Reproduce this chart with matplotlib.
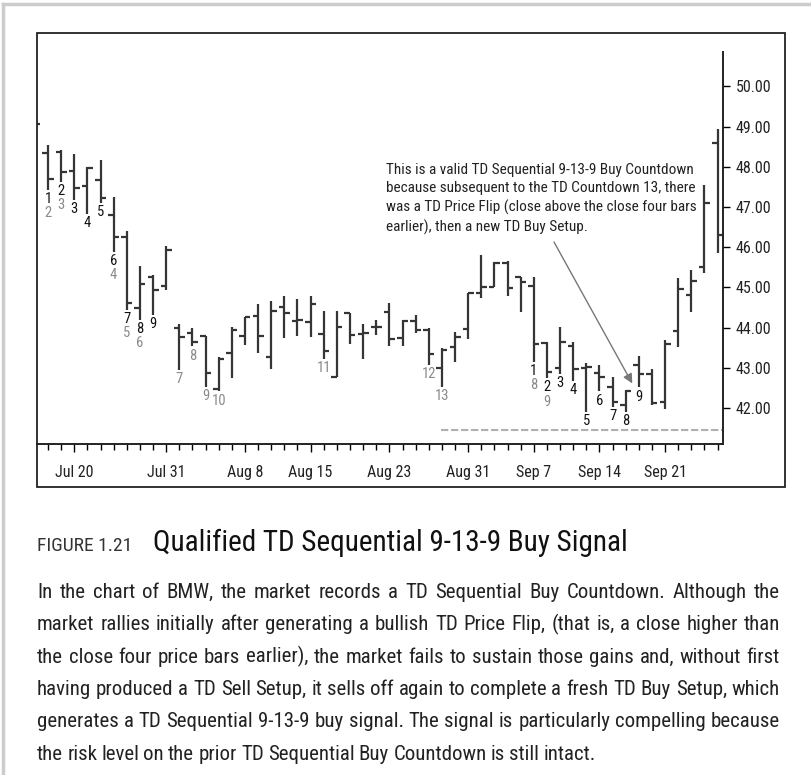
import matplotlib.pyplot as plt
from matplotlib.patches import Rectangle
from matplotlib.lines import Line2D
import numpy as np

plt.rcParams['font.family'] = ['Roboto Condensed', 'Liberation Sans Narrow', 'Roboto', 'DejaVu Sans']

# daily OHLC bars of BMW (bar index 0..52)
opens = [49.30, 48.35, 48.37, 47.90, 47.52, 47.67, 46.79, 46.25, 44.48, 45.27,
         45.04, 43.98, 43.87, 43.79, 42.47, 43.36, 43.79, 44.29, 43.28, 44.50,
         44.16, 44.13, 43.84, 42.76, 44.36, 43.84, 44.02, 44.40, 43.73, 44.17,
         43.94, 43.00, 43.51, 43.97, 44.87, 45.02, 45.61, 45.25, 45.03, 43.62,
         42.99, 43.55, 43.00, 42.88, 42.53, 42.07, 43.07, 42.85, 42.15, 43.92,
         44.81, 45.51, 48.60]
highs = [49.45, 48.54, 48.42, 48.32, 48.00, 48.17, 47.24, 46.40, 45.52, 45.31,
         46.03, 44.10, 44.00, 43.79, 43.28, 44.02, 44.27, 44.58, 44.67, 44.79,
         44.70, 44.79, 44.41, 44.42, 44.36, 44.10, 44.19, 44.60, 44.19, 44.31,
         44.00, 43.48, 43.90, 44.87, 45.81, 45.64, 45.66, 45.27, 45.25, 43.65,
         44.02, 43.65, 43.13, 43.07, 42.78, 42.45, 43.29, 42.96, 43.69, 45.23,
         45.43, 47.55, 48.95]
lows = [48.85, 47.42, 47.63, 47.17, 46.83, 47.10, 45.89, 44.44, 44.19, 44.31,
        44.94, 42.95, 43.53, 42.53, 42.41, 42.74, 43.57, 43.38, 42.97, 43.73,
        43.79, 43.77, 43.22, 42.76, 43.59, 43.21, 43.82, 43.54, 43.54, 43.87,
        43.07, 42.53, 43.15, 43.72, 44.73, 45.00, 44.79, 44.40, 43.15, 42.74,
        42.85, 42.68, 41.91, 42.41, 42.02, 41.91, 42.51, 42.07, 41.97, 43.51,
        44.40, 45.35, 45.85]
closes = [49.07, 47.69, 47.88, 47.46, 47.98, 47.23, 46.25, 44.62, 45.08, 44.94,
          45.93, 43.77, 43.63, 42.86, 43.22, 43.94, 44.26, 43.79, 44.41, 44.36,
          44.19, 44.58, 43.42, 44.02, 43.82, 43.86, 44.02, 43.71, 44.17, 43.94,
          43.34, 43.44, 43.76, 44.87, 45.02, 45.61, 44.98, 45.14, 43.59, 42.89,
          43.65, 42.98, 43.01, 42.76, 42.16, 42.41, 42.85, 42.12, 43.60, 44.95,
          45.16, 47.10, 46.30]

date_bars = [3, 10, 16, 21, 27, 33, 38, 43, 48]
date_labels = ['Jul 20', 'Jul 31', 'Aug 8', 'Aug 15', 'Aug 23', 'Aug 31',
               'Sep 7', 'Sep 14', 'Sep 21']
price_ticks = [42, 43, 44, 45, 46, 47, 48, 49, 50]

# TD Setup counts (black) and TD Countdown counts (grey)
setup_bars = [1, 2, 3, 4, 5, 6, 7, 8, 9, 38, 39, 40, 41, 42, 43, 44, 45, 46]
setup_labels = ['1', '2', '3', '4', '5', '6', '7', '8', '9',
                '1', '2', '3', '4', '5', '6', '7', '8', '9']
countdown_bars = [1, 2, 6, 7, 8, 11, 12, 13, 14, 22, 30, 31, 38, 39]
countdown_labels = ['2', '3', '4', '5', '6', '7', '8', '9', '10', '11', '12',
                    '13', '8', '9']

risk_level = 41.45
risk_start = 30.9

note = ("This is a valid TD Sequential 9-13-9 Buy Countdown\n"
        "because subsequent to the TD Countdown 13, there\n"
        "was a TD Price Flip (close above the close four bars\n"
        "earlier), then a new TD Buy Setup.")

fig_num = "FIGURE 1.21"
fig_title = "Qualified TD Sequential 9-13-9 Buy Signal"
body_lines = [
    "In the chart of BMW, the market records a TD Sequential Buy Countdown. Although the",
    "market rallies initially after generating a bullish TD Price Flip, (that is, a close higher than",
    "the close four price bars earlier), the market fails to sustain those gains and, without first",
    "having produced a TD Sell Setup, it sells off again to complete a fresh TD Buy Setup, which",
    "generates a TD Sequential 9-13-9 buy signal. The signal is particularly compelling because",
    "the risk level on the prior TD Sequential Buy Countdown is still intact.",
]

W, H = 812, 775
fig = plt.figure(figsize=(W / 100, H / 100), dpi=100)
fig.patch.set_facecolor('white')

# axes region in pixels
L, R, T, B = 37, 723, 33, 444
ax = fig.add_axes([L / W, 1 - B / H, (R - L) / W, (B - T) / H])
ax.set_xlim(0.162, 52.41)
ax.set_ylim(41.104, 51.328)

bar_col = '#353535'
x = np.arange(len(opens))
ax.vlines(x, lows, highs, color=bar_col, lw=1.6)
ax.hlines(opens, x - 0.42, x, color=bar_col, lw=1.6)
ax.hlines(closes, x, x + 0.42, color=bar_col, lw=1.6)

# count labels under the bars
stack = {}
for b, lbl in zip(setup_bars, setup_labels):
    ax.annotate(lbl, xy=(b, lows[b]), xytext=(0, -1.5), textcoords='offset points',
                ha='center', va='top', fontsize=10.5, color='#111111')
    stack[b] = 1
for b, lbl in zip(countdown_bars, countdown_labels):
    k = stack.get(b, 0)
    ax.annotate(lbl, xy=(b, lows[b]), xytext=(0, -1.5 - 10.3 * k), textcoords='offset points',
                ha='center', va='top', fontsize=10.5, color='#8a8a8a')

# prior countdown risk level
ax.hlines(risk_level, risk_start, 52.41, color='#b0b0b0', lw=1.5, linestyles=(0, (3.5, 1.3)))

# note and arrow
fig.text(386 / W, 1 - 163 / H, note, fontsize=11, color='#222222', va='top', ha='left',
         linespacing=1.38)
ax.annotate('', xy=(45.5, lows[46] + 0.1), xytext=(554, H - 242),
            textcoords='figure pixels',
            arrowprops=dict(arrowstyle='-|>', color='#777777', lw=1.0, mutation_scale=14,
                            shrinkA=0, shrinkB=0))

# axes styling
for s in ['left', 'top']:
    ax.spines[s].set_visible(False)
ax.spines['bottom'].set_color('#222222')
ax.spines['bottom'].set_linewidth(1.4)
ax.spines['right'].set_color('#222222')
ax.spines['right'].set_linewidth(1.4)
ax.spines['right'].set_bounds(41.104, 50.86)
ax.yaxis.tick_right()
ax.set_yticks(price_ticks)
ax.set_yticklabels([f'{p:.2f}' for p in price_ticks], fontsize=11.5, color='#222222')
ax.tick_params(axis='y', direction='out', length=5, width=1, pad=4)
ax.set_xticks(date_bars)
ax.set_xticklabels(date_labels, fontsize=11.5, color='#222222')
ax.set_xticks(np.arange(1, 53), minor=True)
ax.tick_params(axis='x', which='major', direction='out', length=6, width=1, pad=9)
ax.tick_params(axis='x', which='minor', direction='out', length=4, width=1)

# outer frame of the chart
fig.add_artist(Rectangle((37 / W, 1 - 487 / H), (785 - 37) / W, (487 - 33) / H,
                         transform=fig.transFigure, fill=False, ec='#222222', lw=1.3))
# page border lines
fig.add_artist(Line2D([3.5 / W, 3.5 / W], [0, 1 - 3.5 / H], transform=fig.transFigure,
                      color='#cccccc', lw=2.5))
fig.add_artist(Line2D([3.5 / W, 1], [1 - 3.5 / H, 1 - 3.5 / H], transform=fig.transFigure,
                      color='#cccccc', lw=2.5))

# caption
fig.text(37 / W, 1 - 551 / H, fig_num, fontsize=14, color='#333333', va='baseline')
fig.text(153 / W, 1 - 551 / H, fig_title, fontsize=21, color='#111111', va='baseline')

renderer = fig.canvas.get_renderer()
x0, x1 = 37, 780
for i, line in enumerate(body_lines):
    y = 1 - (598 + 32.3 * i) / H
    words = line.split(' ')
    texts = [fig.text(0, y, w_, fontsize=15, color='#222222', va='baseline') for w_ in words]
    widths = [t.get_window_extent(renderer).width for t in texts]
    if i < len(body_lines) - 1:
        gap = (x1 - x0 - sum(widths)) / (len(words) - 1)
    else:
        gap = 4.2
    pos = x0
    for t, w_ in zip(texts, widths):
        t.set_x(pos / W)
        pos += w_ + gap

fig.savefig('out.png', dpi=100)
